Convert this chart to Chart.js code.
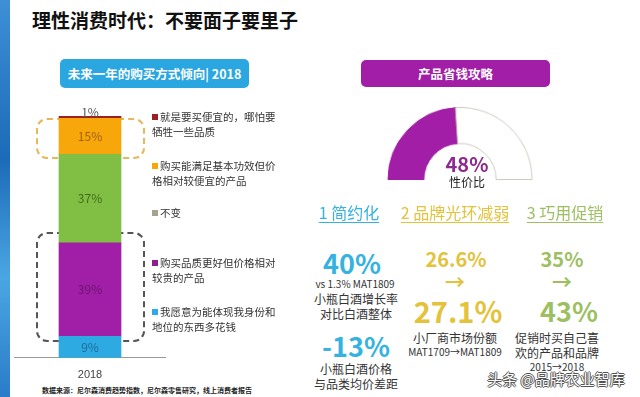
<!DOCTYPE html>
<html>
<head>
<meta charset="utf-8">
<script src="https://cdn.jsdelivr.net/npm/chart.js@4.4.0/dist/chart.umd.min.js"></script>
<style>
  body { margin: 0; width: 640px; height: 397px; overflow: hidden; background: #fff; position: relative;
         font-family: "Noto Sans CJK SC", "Noto Sans", sans-serif; color: #333; }
  .a { position: absolute; white-space: nowrap; }
  .c { position: absolute; white-space: nowrap; transform: translate(-50%, -50%); }
  .strip { position: absolute; left: 0; top: 0; width: 10px; height: 397px;
           background: linear-gradient(180deg, #3d8fd6, #1c6bb8 40%, #4aa6e2 70%, #2a7cc8); }
  .pill { position: absolute; border-radius: 5px; color: #fff; font-weight: bold; font-size: 12.5px;
          display: flex; align-items: center; justify-content: center; }
  .box { position: absolute; border-radius: 11px; }
  .leg { position: absolute; left: 152px; font-size: 10.5px; line-height: 14.5px; color: #333; }
  .leg i { display: inline-block; width: 6px; height: 6px; margin-right: 2px; vertical-align: 1px; }
  .hd { font-size: 16px; text-decoration: underline; text-underline-offset: 3px; }
  .big { font-weight: bold; font-size: 27px; }
  .mid { font-weight: bold; font-size: 20px; }
  .sm { font-size: 12px; color: #333; }
  canvas { position: absolute; }
</style>
</head>
<body>
<div class="strip"></div>
<div class="a" style="left:32px;top:6px;font-size:19px;font-weight:bold;color:#111;">理性消费时代：不要面子要里子</div>

<div class="pill" style="left:60px;top:59px;width:189px;height:29px;background:#2aa7e1;">未来一年的购买方式倾向| 2018</div>
<div class="pill" style="left:361px;top:60px;width:189px;height:27px;background:#a21ea6;">产品省钱攻略</div>

<div class="box" style="left:36px;top:118px;width:105px;height:37px;border:2px dashed #e5b85a;"></div>
<div class="box" style="left:36px;top:232px;width:105px;height:106px;border:2px dashed #555;"></div>

<canvas id="barChart" width="152" height="285" style="left:14px;top:100px;"></canvas>
<div id="legend"></div>

<canvas id="gauge" width="160" height="80" style="left:387px;top:107px;height:73px;"></canvas>
<div class="c" style="left:467px;top:163px;font-size:20px;font-weight:bold;color:#8c2a8f;">48%</div>
<div class="c" style="left:467px;top:181px;font-size:12px;color:#222;">性价比</div>

<div class="c hd" style="left:349px;top:212px;color:#35b2df;">1 简约化</div>
<div class="c hd" style="left:455px;top:212px;color:#e3c23c;">2 品牌光环减弱</div>
<div class="c hd" style="left:565px;top:212px;color:#9dbf62;">3 巧用促销</div>

<div class="c big" style="left:352px;top:262px;color:#35b2df;">40%</div>
<div class="c" style="left:355px;top:283px;font-size:10px;color:#333;">vs 1.3% MAT1809</div>
<div class="c sm" style="left:356px;top:298px;">小瓶白酒增长率</div>
<div class="c sm" style="left:356px;top:313px;">对比白酒整体</div>
<div class="c big" style="left:356px;top:345px;color:#35b2df;">-13%</div>
<div class="c sm" style="left:356px;top:368px;">小瓶白酒价格</div>
<div class="c sm" style="left:356px;top:383px;">与品类均价差距</div>

<div class="c mid" style="left:456px;top:258px;color:#e3c23c;">26.6%</div>
<div class="c mid" style="left:455px;top:281px;color:#e3c23c;">→</div>
<div class="c big" style="left:458px;top:310px;color:#e3c23c;font-size:29px;">27.1%</div>
<div class="c sm" style="left:455px;top:337px;">小厂商市场份额</div>
<div class="c" style="left:455px;top:351px;font-size:10px;color:#333;">MAT1709→MAT1809</div>

<div class="c mid" style="left:562px;top:258px;color:#9dbf62;">35%</div>
<div class="c mid" style="left:562px;top:281px;color:#9dbf62;">→</div>
<div class="c big" style="left:569px;top:310px;color:#9dbf62;">43%</div>
<div class="c sm" style="left:557px;top:337px;">促销时买自己喜</div>
<div class="c sm" style="left:557px;top:352px;">欢的产品和品牌</div>
<div class="c" style="left:557px;top:366px;font-size:10px;color:#333;">2015→2018</div>

<div class="a" style="left:42px;top:385px;font-size:7px;font-weight:bold;color:#222;">数据来源：尼尔森消费趋势指数，尼尔森零售研究，线上消费者报告</div>
<div class="c" style="left:556px;top:378px;font-size:15px;color:#fff;text-shadow:1px 0 0 #555,-1px 0 0 #555,0 1px 0 #555,0 -1px 0 #555;">头条 @品牌农业智库</div>

<script>
// 未来一年的购买方式倾向 2018 (从下往上堆叠)
const years = ["2018"];
const seriesNames = [
  "我愿意为能体现我身份和\n地位的东西多花钱",
  "购买品质更好但价格相对\n较贵的产品",
  "不变",
  "购买能满足基本功效但价\n格相对较便宜的产品",
  "就是要买便宜的，哪怕要\n牺牲一些品质"
];
const seriesValues = [9, 39, 37, 15, 1];
const seriesColors = ["#2eaae3", "#a11ea6", "#80bf43", "#f7a70a", "#9c1f22"];
const labelColors = ["#1c6c9a", "#6d1470", "#3f6d1b", "#a0600a", "#555"];
const legendColors = ["#2eaae3", "#8e1d8e", "#a3a38f", "#f7a70a", "#9c1f22"];
const legendTops = [305, 256, 206, 159, 110];

// 产品省钱攻略：性价比
const gaugeValues = [48, 52];

// 图例
const legendEl = document.getElementById("legend");
seriesNames.forEach((name, i) => {
  const d = document.createElement("div");
  d.className = "leg";
  d.style.top = legendTops[i] + "px";
  d.innerHTML = '<i style="background:' + legendColors[i] + '"></i>' + name.replace("\n", "<br>");
  legendEl.appendChild(d);
});

const barLabels = {
  id: "barLabels",
  afterDatasetsDraw(chart) {
    const ctx = chart.ctx;
    ctx.save();
    ctx.font = "12px 'Noto Sans CJK SC', 'Noto Sans', sans-serif";
    ctx.textAlign = "center";
    ctx.textBaseline = "middle";
    chart.data.datasets.forEach((ds, i) => {
      const bar = chart.getDatasetMeta(i).data[0];
      let y = (bar.y + bar.base) / 2;
      if (ds.data[0] < 3) y = bar.y - 4;
      ctx.fillStyle = labelColors[i];
      ctx.fillText(ds.data[0] + "%", bar.x, y);
    });
    ctx.restore();
  }
};

new Chart(document.getElementById("barChart"), {
  type: "bar",
  data: {
    labels: years,
    datasets: seriesValues.map((v, i) => ({
      label: seriesNames[i],
      data: [v],
      backgroundColor: seriesColors[i],
      borderWidth: 0,
      barThickness: 62
    }))
  },
  options: {
    responsive: false,
    animation: false,
    layout: { padding: { top: 16 } },
    plugins: { legend: { display: false }, tooltip: { enabled: false } },
    scales: {
      x: {
        stacked: true,
        grid: { display: false },
        border: { display: true, color: "#999" },
        ticks: { color: "#444", font: { size: 11 }, padding: 3 }
      },
      y: { stacked: true, display: false, min: 0, max: 101 }
    }
  },
  plugins: [barLabels]
});

new Chart(document.getElementById("gauge"), {
  type: "doughnut",
  data: {
    labels: ["性价比", ""],
    datasets: [{
      data: gaugeValues,
      backgroundColor: ["#a21ea6", "#ffffff"],
      borderColor: ["#a21ea6", "#c9c9bd"],
      borderWidth: 1
    }]
  },
  options: {
    responsive: false,
    animation: false,
    rotation: -90,
    circumference: 180,
    cutout: "50%",
    plugins: { legend: { display: false }, tooltip: { enabled: false } }
  }
});
</script>
</body>
</html>
